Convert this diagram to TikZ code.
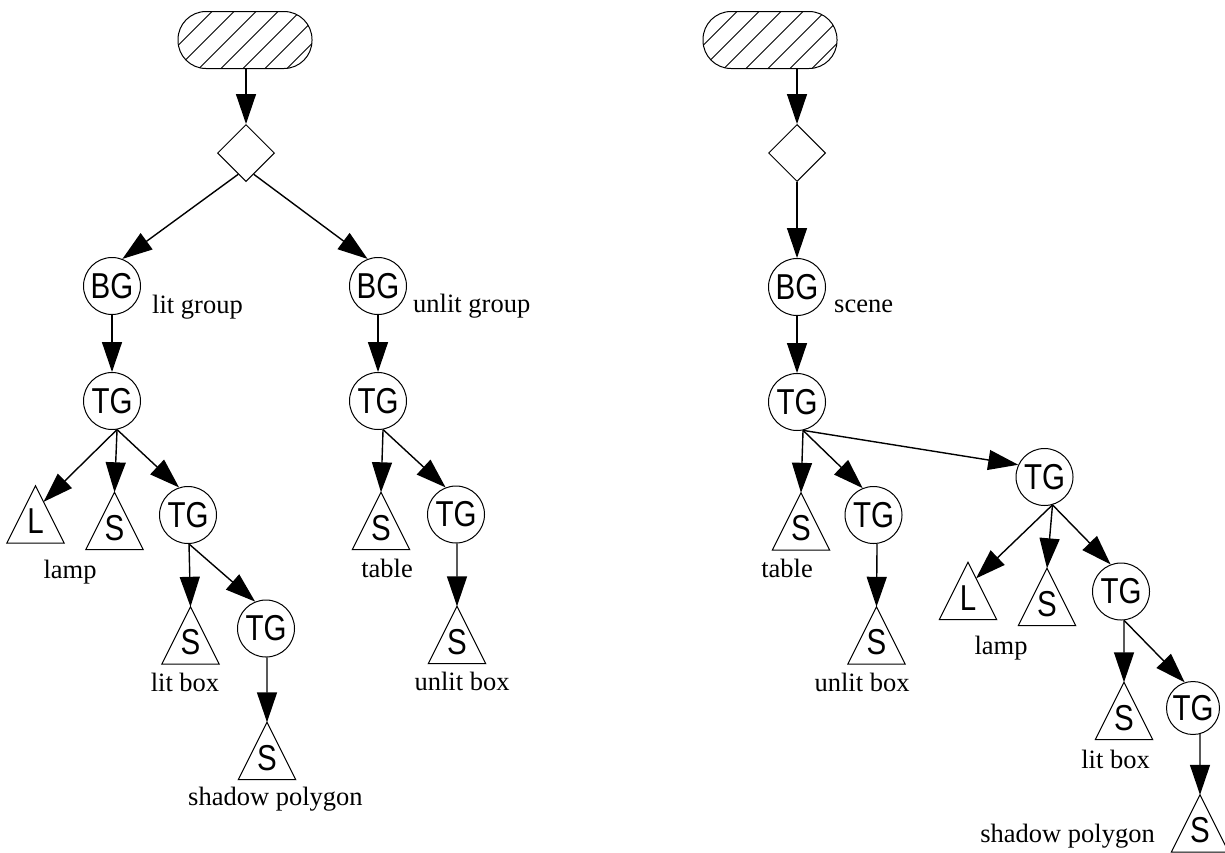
\documentclass[tikz,border=0pt]{standalone}
\usepackage{fontspec}
\setmainfont{Liberation Serif}
\newfontfamily\nsans[FakeStretch=0.82]{Liberation Sans}
\usetikzlibrary{shapes.geometric,arrows.meta,calc}
\tikzset{
  gnode/.style={circle, draw, line width=1pt, minimum size=57pt, inner sep=0pt, font=\nsans\fontsize{36}{36}\selectfont},
  leaf/.style={minimum width=57pt, minimum height=57pt, inner sep=0pt, text height=38pt, text depth=0pt, font=\nsans\fontsize{36}{36}\selectfont,
    append after command={\pgfextra{\draw[line width=1pt] (\tikzlastnode.north) -- (\tikzlastnode.south east) -- (\tikzlastnode.south west) -- cycle;}}},
  choice/.style={diamond, draw, line width=1pt, minimum width=57pt, minimum height=57pt, inner sep=0pt},
  rootbox/.style={draw, line width=1pt, rounded corners=28pt, minimum width=134pt, minimum height=57pt, inner sep=0pt,
    path picture={\foreach \k in {-5,...,5} \draw[line width=0.8pt] ([xshift=4.5pt+\k*22pt]path picture bounding box.center) ++(-70pt,-70pt) -- ++(140pt,140pt);}},
  arr/.style={-{Triangle[length=30pt,width=20pt]}, line width=1.4pt},
  lbl/.style={font=\fontsize{26.5}{30}\selectfont, inner sep=0pt},
}
\begin{document}
\begin{tikzpicture}[x=1pt,y=-1pt]
\fill[white] (0,0) rectangle (1225,852);
\useasboundingbox (0,0) rectangle (1225,852);
% left tree
\node[rootbox] (r1) at (245,40) {};
\node[choice] (d1) at (246,153) {};
\node[gnode] (bg1) at (112,286) {BG};
\node[gnode] (bg2) at (378,286) {BG};
\node[gnode] (tg1) at (112,401) {TG};
\node[gnode] (tg2) at (378,401) {TG};
\node[leaf] (l1) at (35.5,514.5) {L};
\node[leaf] (s1) at (114.5,521) {S};
\node[gnode] (tg3) at (188,515) {TG};
\node[leaf] (s2) at (190.5,635.5) {S};
\node[gnode] (tg4) at (266,628.5) {TG};
\node[leaf] (s3) at (267,751) {S};
\node[leaf] (s4) at (381,521) {S};
\node[gnode] (tg5) at (456,514.5) {TG};
\node[leaf] (s5) at (457,635) {S};
% right tree
\node[rootbox] (r2) at (770,40) {};
\node[choice] (d2) at (797,153) {};
\node[gnode] (bg3) at (797,287) {BG};
\node[gnode] (tg6) at (797,402) {TG};
\node[leaf] (s6) at (801,521.5) {S};
\node[gnode] (tg7) at (873.5,515) {TG};
\node[leaf] (s8) at (876.5,635.5) {S};
\node[gnode] (tg8) at (1044.5,477) {TG};
\node[leaf] (l2) at (968,591) {L};
\node[leaf] (s7) at (1047,597) {S};
\node[gnode] (tg9) at (1121,591.5) {TG};
\node[leaf] (s9) at (1124,711) {S};
\node[gnode, minimum size=53pt] (tg10) at (1193,708) {TG};
\node[leaf] (s10) at (1200,823.5) {S};
% arrows left
\draw[arr] (d1.north |- r1.south) -- (d1.north);
\draw[arr] (d1.-110) -- (bg1.69);
\draw[arr] (d1.-70) -- (bg2.111);
\draw[arr] (bg1) -- (tg1);
\draw[arr] (bg2) -- (tg2);
\draw[arr] (tg1.-80) -- ($(l1.north)!0.28!(l1.south east)$);
\draw[arr] (tg1.-80) -- (s1.north);
\draw[arr] (tg1.-80) -- (tg3.108);
\draw[arr] (tg3.-88) -- (s2.north);
\draw[arr] (tg3.-88) -- (tg4.112);
\draw[arr] (tg4.-88) -- (s3.north);
\draw[arr] (tg2.-80) -- (s4.north);
\draw[arr] (tg2.-80) -- (tg5.111);
\draw[arr] (tg5.-88) -- (s5.north);
% arrows right
\draw[arr] (d2.north |- r2.south) -- (d2.north);
\draw[arr] (d2.south) -- (bg3.north);
\draw[arr] (bg3) -- (tg6);
\draw[arr] (tg6.-78) -- (s6.north);
\draw[arr] (tg6.-78) -- (tg7.112);
\draw[arr] (tg6.-78) -- (tg8.155);
\draw[arr] (tg7.-83) -- (s8.north);
\draw[arr] (tg8.-74) -- ($(l2.north)!0.28!(l2.south east)$);
\draw[arr] (tg8.-74) -- (s7.north);
\draw[arr] (tg8.-74) -- (tg9.111);
\draw[arr] (tg9.-84) -- (s9.north);
\draw[arr] (tg9.-84) -- (tg10.108);
\draw[arr] (tg10.-75) -- (s10.north);
% labels
\node[lbl, anchor=base west] (t1) at (152,313) {lit group};
\node[lbl, anchor=base west] (t2) at (413,312) {unlit group};
\node[lbl, anchor=base] (t3) at (70,578) {lamp};
\node[lbl, anchor=base] (t4) at (387,577) {table};
\node[lbl, anchor=base] (t5) at (185,691) {lit box};
\node[lbl, anchor=base] (t6) at (462,690) {unlit box};
\node[lbl, anchor=base west] (t7) at (188,805) {shadow polygon};
\node[lbl, anchor=base west] (t8) at (834,312) {scene};
\node[lbl, anchor=base] (t9) at (787,577) {table};
\node[lbl, anchor=base] (t10) at (862,691) {unlit box};
\node[lbl, anchor=base] (t11) at (1001,654) {lamp};
\node[lbl, anchor=base east] (t12) at (1150,768) {lit box};
\node[lbl, anchor=base east] (t13) at (1155,842) {shadow polygon};
\end{tikzpicture}
\end{document}
